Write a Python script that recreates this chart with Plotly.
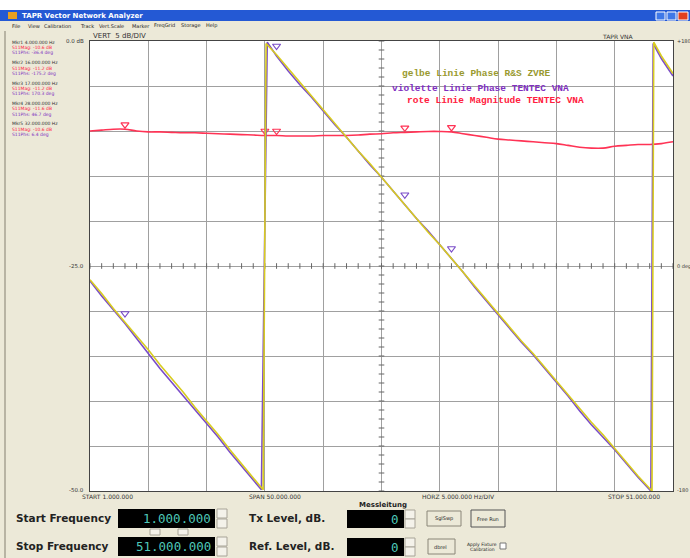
import plotly.graph_objects as go
import numpy as np

# ---------------- data ----------------
freq_yellow = [1, 2, 3, 4, 5, 6, 7, 8, 9, 10, 11, 12, 13, 14, 15, 15.85, 16.1,
               17, 18, 19, 20, 21, 22, 23, 24, 25, 26, 27, 28, 29, 30, 31, 32, 33, 34,
               35, 36, 37, 38, 39, 40, 41, 42, 43, 44, 45, 46, 47, 48, 49, 49.2, 49.35, 50, 51]
phase_yellow = [-11, -22, -34, -45, -56, -67, -79, -90, -101, -113, -124, -135, -147, -158, -169, -179, 178,
                169, 158, 147, 136, 125, 114, 103, 92, 82, 71, 60, 49, 38, 27, 17, 6, -5, -16,
                -27, -38, -49, -60, -70, -81, -92, -103, -114, -125, -135, -146, -157, -168, -178, -180, 179, 168, 154]

freq_violet = [1, 2, 3, 4, 5, 6, 7, 8, 9, 10, 11, 12, 13, 14, 15, 15.7, 16.2,
               17, 18, 19, 20, 21, 22, 23, 24, 25, 26, 27, 28, 29, 30, 31, 32, 33, 34,
               35, 36, 37, 38, 39, 40, 41, 42, 43, 44, 45, 46, 47, 48, 49, 49.1, 49.3, 50, 51]
phase_violet = [-12, -24, -35, -46, -58, -70, -82, -93, -104, -115, -126, -137, -149, -160, -171, -179, 179,
                168, 156, 145, 135, 124, 113, 103, 92, 81, 71, 60, 49, 38, 28, 17, 6, -5, -17,
                -28, -39, -50, -61, -71, -82, -93, -104, -116, -127, -137, -147, -158, -169, -179, -180, 178, 166, 152]

freq_mag = [1, 2, 3, 4, 5, 6, 7, 8, 9, 10, 11, 12, 13, 14, 15, 16, 17, 18, 19, 20, 21, 22, 23, 24, 25,
            26, 27, 28, 29, 30, 31, 32, 33, 34, 35, 36, 37, 38, 39, 40, 41, 42, 43, 44, 45, 46, 47, 48, 49, 50, 51]
mag_db = [-10.0, -9.9, -9.8, -9.8, -10.0, -10.1, -10.1, -10.15, -10.2, -10.2, -10.25, -10.3, -10.35, -10.4,
          -10.45, -10.5, -10.5, -10.55, -10.55, -10.55, -10.5, -10.5, -10.5, -10.45, -10.35, -10.3, -10.2,
          -10.15, -10.1, -10.05, -10.05, -10.1, -10.3, -10.5, -10.7, -10.9, -11.0, -11.1, -11.2, -11.3, -11.4,
          -11.6, -11.8, -11.9, -11.9, -11.7, -11.6, -11.5, -11.5, -11.4, -11.2]

mkr_freq = [4, 16, 17, 28, 32]
mkr_hz_text = ["4.000.000", "16.000.000", "17.000.000", "28.000.000", "32.000.000"]
mkr_mag_text = ["-10.6", "-11.2", "-11.2", "-11.6", "-10.6"]
mkr_phs_text = ["-36.4", "-175.2", "170.3", "46.7", "6.4"]

legend_lines = ["gelbe Linie Phase R&S ZVRE", "violette Linie Phase TENTEC VNA", "rote Linie Magnitude TENTEC VNA"]
menu_items = ["File", "View", "Calibration", "Track", "Vert.Scale", "Marker", "FreqGrid", "Storage", "Help"]

# ---------------- figure ----------------
W, H = 690, 558
L, R, T, B = 90, 673, 41, 491
BG = "#ECE9D8"

def X(px):
    return (px - L) / (R - L)

def Y(py):
    return (B - py) / (B - T)

fig = go.Figure()

# center-line minor ticks
cx = np.arange(1, 51.01, 1.0)
fig.add_trace(go.Scatter(x=cx, y=[-25] * len(cx), mode="markers", hoverinfo="skip",
                         marker=dict(symbol="line-ns", size=4, line=dict(width=1, color="#666"))))
cy = np.arange(-50, 0.01, 1.0)
fig.add_trace(go.Scatter(x=[26] * len(cy), y=cy, mode="markers", hoverinfo="skip",
                         marker=dict(symbol="line-ew", size=4, line=dict(width=1, color="#666"))))

fig.add_trace(go.Scatter(x=freq_mag, y=mag_db, mode="lines", line=dict(color="#ff3355", width=1.6),
                         line_shape="spline"))
fig.add_trace(go.Scatter(x=freq_violet, y=phase_violet, yaxis="y2", mode="lines",
                         line=dict(color="#7a4cc8", width=1.6)))
fig.add_trace(go.Scatter(x=freq_yellow, y=phase_yellow, yaxis="y2", mode="lines",
                         line=dict(color="#d8cc20", width=1.6)))

# marker symbols
mkr_mag_val = [float(np.interp(f, freq_mag, mag_db)) for f in mkr_freq]
fig.add_trace(go.Scatter(x=mkr_freq, y=[v + 0.5 for v in mkr_mag_val], mode="markers",
                         marker=dict(symbol="triangle-down-open", size=7, color="#ff3355",
                                     line=dict(width=1.2, color="#ff3355"))))
mkr_phs_val = [float(np.interp(f, freq_violet[:16], phase_violet[:16])) if f < 16 else
               float(np.interp(f, freq_violet[16:50], phase_violet[16:50])) for f in mkr_freq]
fig.add_trace(go.Scatter(x=mkr_freq, y=[v + 8 for v in mkr_phs_val], yaxis="y2", mode="markers",
                         marker=dict(symbol="triangle-down-open", size=7, color="#7a4cc8",
                                     line=dict(width=1.2, color="#7a4cc8"))))

shapes = []
annotations = []

def rect(x0, y0, x1, y1, fill, line=None, lw=1):
    shapes.append(dict(type="rect", xref="paper", yref="paper", x0=X(x0), x1=X(x1), y0=Y(y1), y1=Y(y0),
                       fillcolor=fill, line=dict(color=line or fill, width=lw if line else 0), layer="above"))

def text(px, py, s, size=8, color="#000", anchor="left", bold=False, family="DejaVu Sans"):
    if bold:
        s = "<b>" + s + "</b>"
    annotations.append(dict(xref="paper", yref="paper", x=X(px), y=Y(py), text=s, showarrow=False,
                            xanchor=anchor, yanchor="middle", font=dict(size=size, color=color, family=family)))

# window chrome
rect(0, 0, 690, 10, "#ffffff")
rect(0, 10, 690, 21, "#2459d4")
rect(8, 12, 17, 19, "#e8a020")
text(20, 15.5, "TAPR Vector Network Analyzer", size=7, color="#ffffff", bold=True)
rect(656, 12, 665, 20, "#3f78e8", "#ffffff")
rect(667, 12, 676, 20, "#3f78e8", "#ffffff")
rect(678, 12, 688, 20, "#e04020", "#ffffff")
xm = 10
for m in menu_items:
    text(xm, 26, m, size=5, color="#222")
    xm += len(m) * 2.8 + 5
rect(4, 31, 6, 558, "#b8b4a4")

# axis / scale texts
text(86, 41, "0.0 dB", size=5.5, color="#333", anchor="right")
text(86, 266, "-25.0", size=5.5, color="#333", anchor="right")
text(86, 490, "-50.0", size=5.5, color="#333", anchor="right")
text(675, 41, "+180", size=5, color="#333")
text(675, 266, "0 deg", size=5, color="#333")
text(675, 490, "-180", size=5, color="#333")
text(91, 36, "VERT  5 dB/DIV", size=7, color="#333")
text(600, 36, "TAPR VNA", size=6, color="#333")
text(80, 496, "START 1.000.000", size=6, color="#333")
text(247, 496, "SPAN 50.000.000", size=6, color="#333")
text(420, 496, "HORZ 5.000.000 Hz/DIV", size=6, color="#333")
text(606, 496, "STOP 51.000.000", size=6, color="#333")
text(383, 505, "Messleitung", size=7, color="#222", bold=True, anchor="center")

# marker readout panel
for i in range(len(mkr_freq)):
    y0 = 42 + i * 20.5
    text(10, y0, "Mkr%d %s Hz" % (i + 1, mkr_hz_text[i]), size=4.5, color="#333")
    text(10, y0 + 5.5, "S11Mag: %s dB" % mkr_mag_text[i], size=4.5, color="#ff2040")
    text(10, y0 + 10.5, "S11Phs: %s deg" % mkr_phs_text[i], size=4.5, color="#8030c0")

# legend texts in plot
leg_colors = ["#9a9a30", "#8030c0", "#ff2040"]
leg_x = [400, 390, 405]
leg_y = [73, 88, 101]
for s, c, xx, yy in zip(legend_lines, leg_colors, leg_x, leg_y):
    text(xx, yy, s, size=9.5, color=c, bold=True, family="Liberation Mono")

# bottom controls
text(14, 518, "Start Frequency", size=10.5, color="#222", bold=True)
text(14, 546, "Stop Frequency", size=10.5, color="#222", bold=True)
rect(118, 509, 215, 528, "#000000")
rect(118, 537, 215, 556, "#000000")
text(213, 518.5, "1.000.000", size=12.5, color="#4ec8b8", anchor="right", family="DejaVu Sans Mono")
text(213, 546.5, "51.000.000", size=12.5, color="#4ec8b8", anchor="right", family="DejaVu Sans Mono")
for yy in (509, 537):
    rect(217, yy, 227, yy + 9, "#f4f2ea", "#a8a498")
    rect(217, yy + 10, 227, yy + 19, "#f4f2ea", "#a8a498")
rect(150, 529, 160, 535, "#f4f2ea", "#a8a498")
rect(178, 529, 188, 535, "#f4f2ea", "#a8a498")
text(247, 518, "Tx Level, dB.", size=10.5, color="#222", bold=True)
text(247, 546, "Ref. Level, dB.", size=10.5, color="#222", bold=True)
rect(347, 510, 404, 528, "#000000")
rect(347, 538, 404, 556, "#000000")
text(401, 519, "0", size=12.5, color="#4ec8b8", anchor="right", family="DejaVu Sans Mono")
text(401, 547, "0", size=12.5, color="#4ec8b8", anchor="right", family="DejaVu Sans Mono")
for yy in (510, 538):
    rect(405, yy, 415, yy + 9, "#f4f2ea", "#a8a498")
    rect(405, yy + 9, 415, yy + 18, "#f4f2ea", "#a8a498")
rect(427, 511, 461, 526, "#ECE9D8", "#8a8678")
text(444, 518.5, "SglSwp", size=5, color="#222", anchor="center")
rect(471, 510, 505, 527, "#ECE9D8", "#555")
text(488, 518.5, "Free Run", size=5, color="#222", anchor="center")
rect(428, 539, 455, 554, "#ECE9D8", "#8a8678")
text(441, 546.5, "dbrel", size=5, color="#222", anchor="center")
text(482, 544, "Apply Fixture", size=4.5, color="#222", anchor="center")
text(482, 549, "Calibration", size=4.5, color="#222", anchor="center")
rect(500, 543, 506, 549, "#ffffff", "#777")

axis_common = dict(showgrid=True, gridcolor="#a0a0a0", gridwidth=1, showline=True, linecolor="#444",
                   linewidth=1, mirror=True, showticklabels=False, zeroline=False, ticks="")

fig.update_layout(
    width=W, height=H,
    margin=dict(l=L, r=W - R, t=T, b=H - B, pad=0),
    paper_bgcolor=BG, plot_bgcolor="#ffffff",
    showlegend=False,
    xaxis=dict(range=[1, 51], tick0=1, dtick=5, **axis_common),
    yaxis=dict(range=[-50, 0], dtick=5, **axis_common),
    yaxis2=dict(range=[-180, 180], overlaying="y", side="right", showgrid=False, showticklabels=False,
                zeroline=False, showline=False),
    shapes=shapes, annotations=annotations,
)

fig.write_html("out.html")
